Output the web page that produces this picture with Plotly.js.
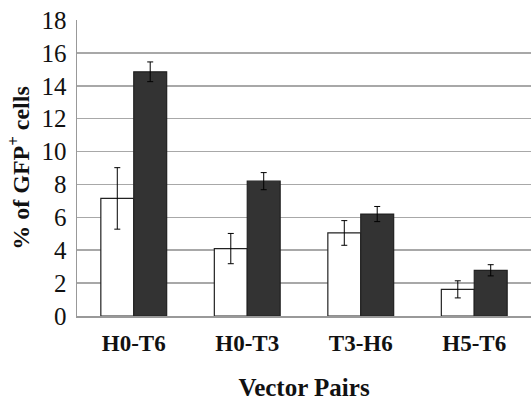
<!DOCTYPE html>
<html>
<head>
<meta charset="utf-8">
<script src="https://cdn.plot.ly/plotly-3.0.1.min.js"></script>
<style>html,body{margin:0;padding:0;background:#fff;}</style>
</head>
<body>
<div id="chart" style="width:531px;height:402px;"></div>
<script>
const categories = ["H0-T6", "H0-T3", "T3-H6", "H5-T6"];
const seriesA = [7.15, 4.1, 5.05, 1.62];
const errorsA = [1.87, 0.92, 0.75, 0.52];
const seriesB = [14.85, 8.2, 6.2, 2.78];
const errorsB = [0.6, 0.52, 0.46, 0.34];
const yTicks = [0, 2, 4, 6, 8, 10, 12, 14, 16, 18];

const serif = "Liberation Serif";
const errStyle = {type: "data", visible: true, color: "#000", thickness: 1, width: 3};

const traces = [
  {type: "bar", x: categories, y: seriesA, name: "A",
   marker: {color: "#ffffff", line: {color: "#222", width: 1.2}},
   error_y: Object.assign({array: errorsA}, errStyle)},
  {type: "bar", x: categories, y: seriesB, name: "B",
   marker: {color: "#333333", line: {color: "#222", width: 1.2}},
   error_y: Object.assign({array: errorsB}, errStyle)}
];

const layout = {
  width: 531, height: 402,
  margin: {l: 77, r: 0, t: 20, b: 86},
  paper_bgcolor: "#fff", plot_bgcolor: "#fff",
  font: {family: serif, color: "#111"},
  showlegend: false,
  barmode: "group", bargap: 0.42, bargroupgap: 0,
  xaxis: {
    showgrid: false, zeroline: false, showline: true, linecolor: "#999", linewidth: 1.5,
    ticks: "outside", ticklen: 6, tickcolor: "rgba(0,0,0,0)",
    tickfont: {family: serif, size: 23, color: "#111", weight: "bold"},
    title: {text: "<b>Vector Pairs</b>", font: {family: serif, size: 25, color: "#111"}, standoff: 23},
    automargin: false, fixedrange: true
  },
  yaxis: {
    range: [0, 18], tickvals: yTicks, ticktext: yTicks.map(String),
    showgrid: true, gridcolor: "#a8a8a8", gridwidth: 1.5,
    zeroline: false, showline: true, linecolor: "#999", linewidth: 1.5,
    ticks: "outside", ticklen: 4, tickcolor: "rgba(0,0,0,0)",
    tickfont: {family: serif, size: 25, color: "#111"},
    title: {text: "<b>% of GFP<sup>+</sup> cells</b>", font: {family: serif, size: 24, color: "#111"}, standoff: 5},
    automargin: false, fixedrange: true
  }
};

Plotly.newPlot("chart", traces, layout, {displayModeBar: false, staticPlot: true});
</script>
</body>
</html>
